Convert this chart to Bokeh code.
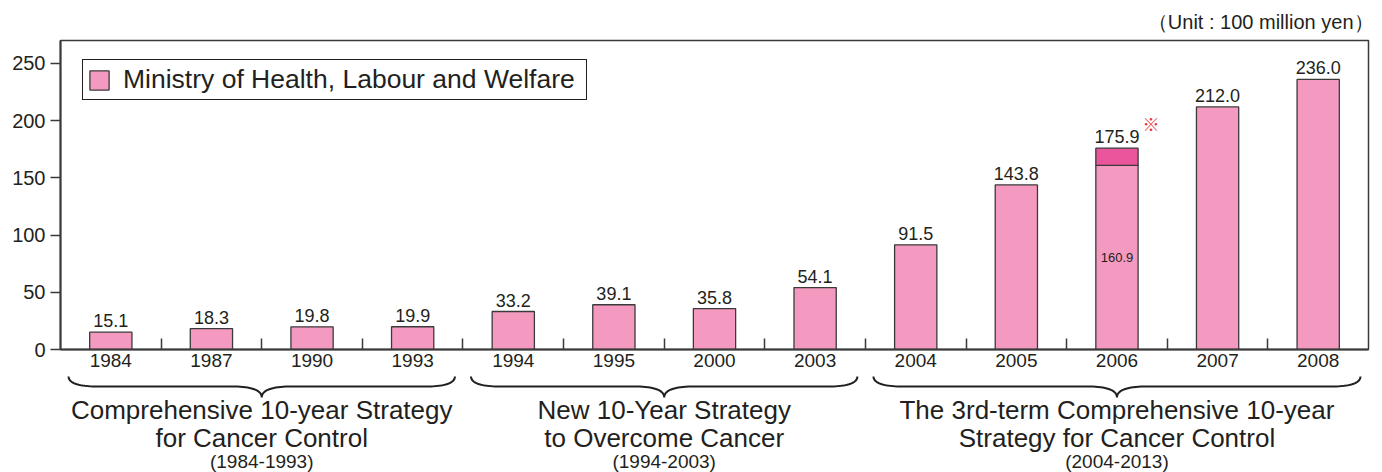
import numpy as np
from bokeh.plotting import figure
from bokeh.models import Range1d, FixedTicker, ColumnDataSource, Legend, LegendItem
from bokeh.layouts import column
from bokeh.embed import file_html
from bokeh.resources import INLINE
from bokeh.core.properties import value

# ---------------- data ----------------
years = ["1984", "1987", "1990", "1993", "1994", "1995", "2000", "2003",
         "2004", "2005", "2006", "2007", "2008"]
budget = [15.1, 18.3, 19.8, 19.9, 33.2, 39.1, 35.8, 54.1,
          91.5, 143.8, 175.9, 212.0, 236.0]
split_year = "2006"
split_base = 160.9
split_note = "※"
y_ticks = [0, 50, 100, 150, 200, 250]
legend_label = "Ministry of Health, Labour and Welfare"
unit_label = "（Unit : 100 million yen）"
group_first = ["1984", "1994", "2004"]
group_last = ["1993", "2003", "2008"]
group_line1 = ["Comprehensive 10-year Strategy", "New 10-Year Strategy",
               "The 3rd-term Comprehensive 10-year"]
group_line2 = ["for Cancer Control", "to Overcome Cancer",
               "Strategy for Cancer Control"]
group_period = ["(1984-1993)", "(1994-2003)", "(2004-2013)"]

# ---------------- style ----------------
FONT = "Liberation Sans"
INK = "#231f20"
PINK = "#f49ac1"
DEEP = "#eb559c"
EDGE = "#3a3a3a"
NOTE = "#e8383d"

W = 1382
ML, MR = 60, 14
H1 = 375
H2 = 472 - H1
FRAME_TOP, FRAME_BOTTOM = 40, 349

n = len(years)
xc = np.arange(n) + 0.5
si = years.index(split_year)
base = list(budget)
base[si] = split_base

src = ColumnDataSource(dict(x=xc, top=base, total=budget,
                            label=[f"{v:.1f}" for v in budget]))

p = figure(width=W, height=H1, x_range=Range1d(0, n), y_range=Range1d(0, 270),
           output_backend="svg", toolbar_location=None, title=unit_label,
           min_border_left=ML, min_border_right=MR, min_border_top=FRAME_TOP,
           min_border_bottom=H1 - FRAME_BOTTOM)
p.grid.visible = False
p.outline_line_color = EDGE
p.outline_line_width = 1.5
p.background_fill_color = "white"
p.border_fill_color = "white"

p.title.align = "right"
p.title.text_font = FONT
p.title.text_font_size = "20px"
p.title.text_font_style = "normal"
p.title.text_color = INK
p.title.offset = -5
p.title.standoff = 15

bars = p.vbar(x="x", top="top", width=0.42, source=src, fill_color=PINK,
              line_color=EDGE, line_width=1.3)
p.vbar(x=[xc[si]], bottom=[split_base], top=[budget[si]], width=0.42,
       fill_color=DEEP, line_color=EDGE, line_width=1.3)

p.text(x="x", y="total", text="label", source=src, text_align="center",
       text_baseline="bottom", y_offset=-5, text_font=value(FONT),
       text_font_size="18px", text_color=INK)
p.text(x=[xc[si]], y=[split_base / 2], text=[f"{split_base:.1f}"],
       text_align="center", text_baseline="middle", text_font=value(FONT),
       text_font_size="13px", text_color=INK)
p.text(x=[xc[si]], y=[budget[si]], text=[split_note], x_offset=34, y_offset=-12,
       text_align="center", text_baseline="bottom",
       text_font=value("Noto Sans CJK JP"), text_font_size="17px",
       text_font_style="bold", text_color=NOTE)

# axes
p.xaxis.ticker = FixedTicker(ticks=list(xc), minor_ticks=list(range(1, n)))
p.xaxis.major_label_overrides = {float(x): y for x, y in zip(xc, years)}
p.xaxis.major_tick_in = 0
p.xaxis.major_tick_out = 0
p.xaxis.minor_tick_in = 11
p.xaxis.minor_tick_out = 0
p.xaxis.minor_tick_line_color = EDGE
p.xaxis.minor_tick_line_width = 1.5
p.xaxis.axis_line_color = EDGE
p.xaxis.axis_line_width = 2
p.xaxis.major_label_standoff = 4
p.xaxis.major_label_text_font = FONT
p.xaxis.major_label_text_font_size = "19px"
p.xaxis.major_label_text_color = INK

p.yaxis.ticker = FixedTicker(ticks=y_ticks, minor_ticks=[])
p.yaxis.major_tick_in = 0
p.yaxis.major_tick_out = 10
p.yaxis.major_tick_line_color = EDGE
p.yaxis.major_tick_line_width = 1.5
p.yaxis.axis_line_color = EDGE
p.yaxis.axis_line_width = 2
p.yaxis.major_label_standoff = 5
p.yaxis.major_label_text_font = FONT
p.yaxis.major_label_text_font_size = "20px"
p.yaxis.major_label_text_color = INK

legend = Legend(items=[LegendItem(label=legend_label, renderers=[bars])],
                location=(22, 249), margin=0, padding=4, spacing=0,
                glyph_width=24, glyph_height=24, label_standoff=12,
                label_width=459,
                label_text_font=FONT, label_text_font_size="26.5px",
                label_text_color=INK, border_line_color=INK,
                border_line_alpha=1.0,
                border_line_width=1.5, background_fill_color="white",
                background_fill_alpha=1.0)
p.add_layout(legend)

# ---------------- braces and group labels ----------------
p2 = figure(width=W, height=H2, x_range=p.x_range, y_range=Range1d(H2, 0),
            output_backend="svg", toolbar_location=None,
            min_border_left=ML, min_border_right=MR, min_border_top=0,
            min_border_bottom=0, x_axis_type=None, y_axis_type=None)
p2.grid.visible = False
p2.outline_line_color = None
p2.background_fill_color = "white"
p2.border_fill_color = "white"

Y_END, Y_LINE, Y_TIP = 1, 11, 22
DX = 0.3
t = np.linspace(0, 1, 20)


def qbez(a, c, b):
    return ((1 - t) ** 2 * a[0] + 2 * (1 - t) * t * c[0] + t ** 2 * b[0],
            (1 - t) ** 2 * a[1] + 2 * (1 - t) * t * c[1] + t ** 2 * b[1])


bx, by, centers = [], [], []
for f, l in zip(group_first, group_last):
    x0 = years.index(f) + 0.08
    x1 = years.index(l) + 1 - 0.08
    xm = (x0 + x1) / 2
    centers.append(xm)
    parts = [
        qbez((x0, Y_END), (x0, Y_LINE), (x0 + DX, Y_LINE)),
        qbez((xm - DX, Y_LINE), (xm, Y_LINE), (xm, Y_TIP)),
        qbez((xm, Y_TIP), (xm, Y_LINE), (xm + DX, Y_LINE)),
        qbez((x1 - DX, Y_LINE), (x1, Y_LINE), (x1, Y_END)),
    ]
    bx.append(np.concatenate([q[0] for q in parts]))
    by.append(np.concatenate([q[1] for q in parts]))

p2.multi_line(xs=bx, ys=by, line_color=INK, line_width=2)

p2.text(x=centers, y=[34] * 3, text=group_line1, text_align="center",
        text_baseline="middle", text_font=value(FONT), text_font_size="26px",
        text_color=INK)
p2.text(x=centers, y=[62] * 3, text=group_line2, text_align="center",
        text_baseline="middle", text_font=value(FONT), text_font_size="26px",
        text_color=INK)
p2.text(x=centers, y=[86] * 3, text=group_period, text_align="center",
        text_baseline="middle", text_font=value(FONT), text_font_size="19px",
        text_color=INK)

layout = column(p, p2, spacing=0)
open("out.html", "w").write(file_html(layout, INLINE))
